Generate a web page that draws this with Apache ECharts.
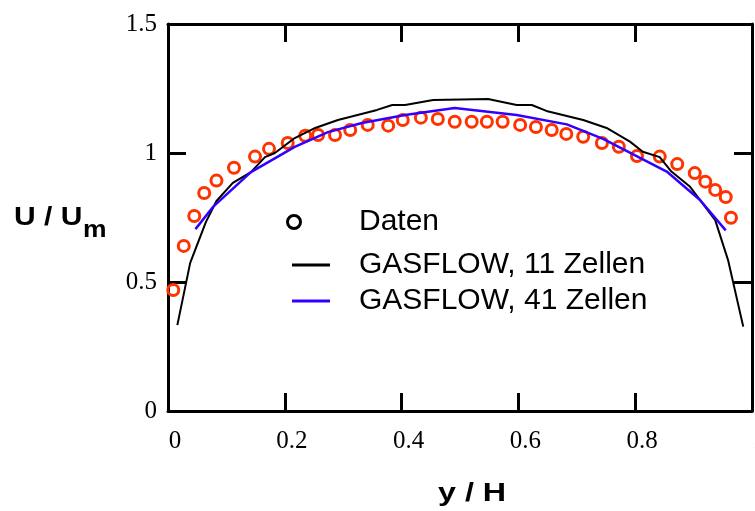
<!DOCTYPE html>
<html><head><meta charset="utf-8">
<script src="https://cdn.jsdelivr.net/npm/echarts@6/dist/echarts.min.js"></script>
<style>html,body{margin:0;padding:0;background:#fff}#c{width:755px;height:511px}</style>
</head><body><div id="c"></div>
<script>
// Measured data ("Daten")
const datenX = [0.009,0.027,0.045,0.062,0.083,0.113,0.149,0.173,0.205,0.235,0.257,0.286,0.312,0.342,0.377,0.402,0.433,0.462,0.491,0.520,0.546,0.573,0.603,0.630,0.657,0.682,0.711,0.743,0.772,0.803,0.842,0.872,0.902,0.920,0.937,0.955,0.964];
const datenY = [0.469,0.640,0.756,0.845,0.893,0.943,0.986,1.016,1.039,1.067,1.070,1.070,1.089,1.109,1.106,1.128,1.137,1.132,1.121,1.121,1.121,1.121,1.109,1.101,1.089,1.074,1.063,1.039,1.024,0.988,0.986,0.957,0.922,0.889,0.857,0.829,0.749];
// GASFLOW, 11 Zellen
const gf11X = [0.016,0.038,0.065,0.083,0.111,0.142,0.166,0.183,0.217,0.252,0.291,0.358,0.384,0.406,0.454,0.548,0.597,0.623,0.648,0.711,0.751,0.791,0.813,0.842,0.862,0.894,0.937,0.959,0.985];
const gf11Y = [0.333,0.574,0.733,0.814,0.884,0.926,0.984,1.000,1.058,1.097,1.128,1.167,1.186,1.186,1.205,1.209,1.186,1.186,1.163,1.128,1.097,1.044,1.005,0.984,0.928,0.869,0.740,0.585,0.327];
// GASFLOW, 41 Zellen
const gf41X = [0.047,0.077,0.142,0.217,0.274,0.332,0.406,0.491,0.597,0.683,0.745,0.854,0.911,0.955];
const gf41Y = [0.705,0.791,0.926,1.024,1.081,1.116,1.147,1.174,1.147,1.111,1.055,0.928,0.818,0.700];
// Axis ticks
const xTicks = {min:0, max:1, interval:0.2};
const yTicks = {min:0, max:1.5, interval:0.5};
const names = ['Daten','GASFLOW, 11 Zellen','GASFLOW, 41 Zellen'];

const zip = (a,b)=>a.map((v,i)=>[v,b[i]]);
const chart = echarts.init(document.getElementById('c'), null, {renderer:'canvas'});
const lblFont = {fontFamily:'Liberation Serif', fontSize:25, color:'#000'};
const legTxt = {fontFamily:'Liberation Sans', fontSize:30, color:'#000', lineHeight:30};
const axLine = {show:true, onZero:false, lineStyle:{color:'#000', width:3}};
const axTick = {show:true, inside:true, length:18, lineStyle:{color:'#000', width:3}};
chart.setOption({
  animation:false,
  backgroundColor:'#fff',
  grid:{left:168, right:3, top:24, bottom:100, containLabel:false, outerBoundsMode:'none'},
  xAxis:[
    {type:'value', min:xTicks.min, max:xTicks.max, interval:xTicks.interval, position:'bottom',
     axisLine:axLine, axisTick:axTick,
     axisLabel:{...lblFont, margin:18, padding:[0,0,0,14], showMaxLabel:true, showMinLabel:true, hideOverlap:false},
     splitLine:{show:false}},
    {type:'value', min:xTicks.min, max:xTicks.max, interval:xTicks.interval, position:'top',
     axisLine:axLine, axisTick:axTick,
     axisLabel:{show:false}, splitLine:{show:false}}
  ],
  yAxis:[
    {type:'value', min:yTicks.min, max:yTicks.max, interval:yTicks.interval, position:'left',
     axisLine:axLine, axisTick:axTick,
     axisLabel:{...lblFont, margin:11},
     splitLine:{show:false}},
    {type:'value', min:yTicks.min, max:yTicks.max, interval:yTicks.interval, position:'right',
     axisLine:axLine, axisTick:axTick,
     axisLabel:{show:false}, splitLine:{show:false}}
  ],
  legend:[
    {left:286, top:207, padding:0, itemWidth:38, itemHeight:13, textStyle:{...legTxt, padding:[0,0,0,41]},
     data:[{name:names[0], icon:'circle', itemStyle:{color:'#fff', borderColor:'#000', borderWidth:3}}]},
    {left:292, top:250, padding:0, itemWidth:38, itemHeight:3, textStyle:{...legTxt, padding:[0,0,0,24]},
     data:[{name:names[1], icon:'rect', itemStyle:{color:'#000'}}]},
    {left:292, top:286, padding:0, itemWidth:38, itemHeight:3, textStyle:{...legTxt, padding:[0,0,0,24]},
     data:[{name:names[2], icon:'rect', itemStyle:{color:'#3300ff'}}]}
  ],
  graphic:[
    {type:'text', x:14, y:218, scaleX:1.2, style:{text:'U / U', fontFamily:'Liberation Sans', fontWeight:'bold', fontSize:25, fill:'#000', verticalAlign:'middle'}},
    {type:'text', x:83, y:231, scaleX:1.15, style:{text:'m', fontFamily:'Liberation Sans', fontWeight:'bold', fontSize:23, fill:'#000', verticalAlign:'middle'}},
    {type:'text', x:438, y:494, scaleX:1.24, style:{text:'y / H', fontFamily:'Liberation Sans', fontWeight:'bold', fontSize:26, fill:'#000', verticalAlign:'middle'}}
  ],
  series:[
    {name:names[0], type:'scatter', data:zip(datenX, datenY), symbol:'circle', symbolSize:11,
     itemStyle:{color:'rgba(255,255,255,0)', borderColor:'#ff3300', borderWidth:3, opacity:1}},
    {name:names[1], type:'line', data:zip(gf11X, gf11Y), showSymbol:false, symbol:'none',
     lineStyle:{color:'#000', width:2}, itemStyle:{color:'#000'}},
    {name:names[2], type:'line', data:zip(gf41X, gf41Y), showSymbol:false, symbol:'none',
     lineStyle:{color:'#3300ff', width:2.5}, itemStyle:{color:'#3300ff'}}
  ]
});
</script></body></html>
